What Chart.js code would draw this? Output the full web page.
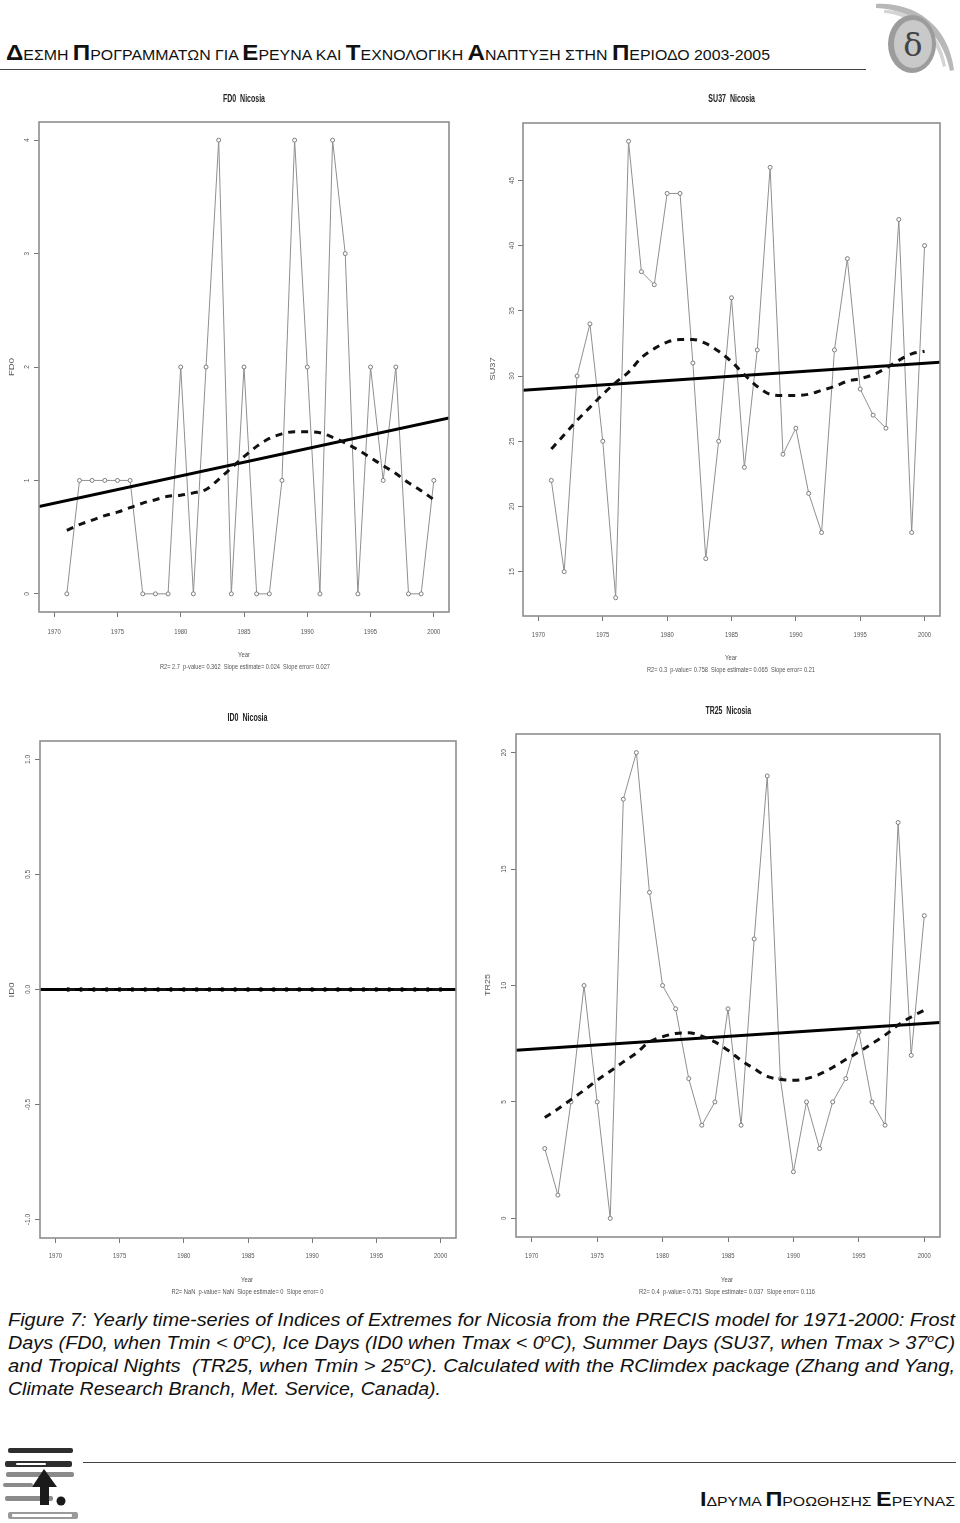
<!DOCTYPE html>
<html><head><meta charset="utf-8">
<script src="https://cdn.jsdelivr.net/npm/chart.js@4.4.1/dist/chart.umd.min.js"></script>
<style>
html,body{margin:0;padding:0;background:#fff;}
body{width:960px;height:1523px;position:relative;overflow:hidden;font-family:"Liberation Sans",Arial,sans-serif;}
canvas{position:absolute;}
.hdr{position:absolute;white-space:nowrap;color:#111;line-height:22px;}
.b{font-size:22px;font-weight:bold;}
.s{font-size:14.5px;}
.cap{position:absolute;left:8px;white-space:nowrap;font-style:italic;font-size:18px;line-height:23px;transform-origin:0 50%;font-family:"Liberation Sans Narrow","Liberation Sans",Arial,sans-serif;color:#111;}
.cap sup{font-size:11px;line-height:0;vertical-align:7px;}
.rule{position:absolute;height:0;border-top:1.6px solid #444;}
</style></head><body>

<div class="hdr" id="hdr" style="left:6px;top:42px;"><span class="b">Δ</span><span class="s">ΕΣΜΗ </span><span class="b">Π</span><span class="s">ΡΟΓΡΑΜΜΑΤΩΝ ΓΙΑ </span><span class="b">Ε</span><span class="s">ΡΕΥΝΑ ΚΑΙ </span><span class="b">Τ</span><span class="s">ΕΧΝΟΛΟΓΙΚΗ </span><span class="b">Α</span><span class="s">ΝΑΠΤΥΞΗ ΣΤΗΝ </span><span class="b">Π</span><span class="s">ΕΡΙΟΔΟ 2003-2005</span></div>
<div class="rule" style="left:0;top:69px;width:866px;"></div>

<svg style="position:absolute;left:866px;top:0" width="94" height="78" viewBox="0 0 94 78">
  <path d="M10 4 C45 2 82 22 88 70 L84 71 C76 30 46 10 10 8 Z" fill="#b8b8b8"/>
  <path d="M18 10 C48 10 74 30 80 66 L77 67 C70 34 46 15 18 13 Z" fill="#d4d4d4"/>
  <ellipse cx="46" cy="44" rx="24" ry="29" fill="#9c9c9c"/>
  <ellipse cx="47" cy="44" rx="19" ry="24" fill="#c9c9c9"/>
  <text x="47" y="56" text-anchor="middle" font-family="DejaVu Serif, serif" font-size="32" fill="#444">δ</text>
</svg>

<div class="cap" id="c1" style="top:1309px;">Figure 7: Yearly time-series of Indices of Extremes for Nicosia from the PRECIS model for 1971-2000: Frost</div>
<div class="cap" id="c2" style="top:1332px;">Days (FD0, when Tmin &lt; 0<sup>o</sup>C), Ice Days (ID0 when Tmax &lt; 0<sup>o</sup>C), Summer Days (SU37, when Tmax &gt; 37<sup>o</sup>C)</div>
<div class="cap" id="c3" style="top:1355px;">and Tropical Nights&nbsp; (TR25, when Tmin &gt; 25<sup>o</sup>C). Calculated with the RClimdex package (Zhang and Yang,</div>
<div class="cap" id="c4" style="top:1378px;">Climate Research Branch, Met. Service, Canada).</div>

<svg style="position:absolute;left:0;top:1440px" width="82" height="83" viewBox="0 0 82 83">
  <rect x="8" y="8" width="65" height="5" rx="2" fill="#2e2e2e"/>
  <rect x="5" y="21" width="67" height="6" rx="2" fill="#2e2e2e"/>
  <rect x="16" y="23" width="30" height="2" rx="1" fill="#fff"/>
  <rect x="6" y="32" width="68" height="5" rx="2" fill="#8a8a8a"/>
  <rect x="3" y="43" width="30" height="4" rx="2" fill="#8a8a8a"/>
  <rect x="5" y="56" width="48" height="5" rx="2" fill="#8a8a8a"/>
  <rect x="8" y="72" width="70" height="7" rx="2" fill="#9a9a9a"/>
  <rect x="12" y="74" width="60" height="3" rx="1" fill="#fff"/>
  <polygon points="44,29 57,47 49,47 49,65 40,65 40,47 32,47" fill="#1a1a1a"/>
  <circle cx="61" cy="61" r="4.5" fill="#1a1a1a"/>
</svg>
<div class="rule" style="left:83px;top:1462px;width:873px;"></div>
<div class="hdr" id="ftr" style="left:700px;top:1488px;"><span class="b" style="font-size:20px">Ι</span><span class="s" style="font-size:13.5px">ΔΡΥΜΑ </span><span class="b" style="font-size:20px">Π</span><span class="s" style="font-size:13.5px">ΡΟΩΘΗΣΗΣ </span><span class="b" style="font-size:20px">Ε</span><span class="s" style="font-size:13.5px">ΡΕΥΝΑΣ</span></div>

<script>
// ---------- data ----------
const years = [1971,1972,1973,1974,1975,1976,1977,1978,1979,1980,1981,1982,1983,1984,1985,1986,1987,1988,1989,1990,1991,1992,1993,1994,1995,1996,1997,1998,1999,2000];
const xRange = [1968.8, 2001.2];
const xTicks = [1970,1975,1980,1985,1990,1995,2000];
const xTickLabels = ['1970','1975','1980','1985','1990','1995','2000'];

const fd0Values = [0,1,1,1,1,1,0,0,0,2,0,2,4,0,2,0,0,1,4,2,0,4,3,0,2,1,2,0,0,1];
const fd0Trend  = [0.77,1.55];
const fd0Smooth = [0.56,0.61,0.65,0.69,0.72,0.76,0.80,0.83,0.86,0.87,0.89,0.92,1.01,1.11,1.21,1.30,1.37,1.41,1.43,1.43,1.42,1.38,1.33,1.27,1.20,1.13,1.06,0.98,0.91,0.83];
const fd0YRange = [-0.16,4.16];
const fd0YTicks = [0,1,2,3,4];
const fd0YTickLabels = ['0','1','2','3','4'];

const su37Values = [22,15,30,34,25,13,48,38,37,44,44,31,16,25,36,23,32,46,24,26,21,18,32,39,29,27,26,42,18,40];
const su37Trend  = [28.9,31.05];
const su37Smooth = [24.4,25.5,26.6,27.6,28.6,29.5,30.3,31.4,32.1,32.6,32.8,32.8,32.5,31.9,31.1,30.1,29.2,28.6,28.5,28.5,28.6,28.9,29.2,29.6,29.8,30.1,30.6,31.2,31.7,31.9];
const su37YRange = [11.6,49.4];
const su37YTicks = [15,20,25,30,35,40,45];
const su37YTickLabels = ['15','20','25','30','35','40','45'];

const id0Values = [0,0,0,0,0,0,0,0,0,0,0,0,0,0,0,0,0,0,0,0,0,0,0,0,0,0,0,0,0,0];
const id0Trend  = [0,0];
const id0Smooth = [0,0,0,0,0,0,0,0,0,0,0,0,0,0,0,0,0,0,0,0,0,0,0,0,0,0,0,0,0,0];
const id0YRange = [-1.08,1.08];
const id0YTicks = [-1,-0.5,0,0.5,1];
const id0YTickLabels = ['-1.0','-0.5','0.0','0.5','1.0'];

const tr25Values = [3,1,5,10,5,0,18,20,14,10,9,6,4,5,9,4,12,19,6,2,5,3,5,6,8,5,4,17,7,13];
const tr25Trend  = [7.22,8.41];
const tr25Smooth = [4.33,4.7,5.1,5.5,5.93,6.32,6.72,7.1,7.58,7.8,7.94,7.97,7.82,7.58,7.22,6.79,6.43,6.1,5.97,5.93,6.0,6.19,6.48,6.82,7.15,7.5,7.87,8.3,8.65,8.94];
const tr25YRange = [-0.8,20.8];
const tr25YTicks = [0,5,10,15,20];
const tr25YTickLabels = ['0','5','10','15','20'];

const titles = {fd0:'FD0  Nicosia', su37:'SU37  Nicosia', id0:'ID0  Nicosia', tr25:'TR25  Nicosia'};
const yNames = {fd0:'FD0', su37:'SU37', id0:'ID0', tr25:'TR25'};
const xName = 'Year';
const stats = {
  fd0:'R2= 2.7  p-value= 0.362  Slope estimate= 0.024  Slope error= 0.027',
  su37:'R2= 0.3  p-value= 0.758  Slope estimate= 0.065  Slope error= 0.21',
  id0:'R2= NaN  p-value= NaN  Slope estimate= 0  Slope error= 0',
  tr25:'R2= 0.4  p-value= 0.751  Slope estimate= 0.037  Slope error= 0.116'
};

// ---------- layout (page px) ----------
const layout = {
  fd0:  {canvas:[0,85,475,600],   box:[39,122,449,612],   title:[244,99,42],    ylab:[12,367,18],    ytickX:27,    xtickY:632,  year:[244,655],    stats:[245,667,170]},
  su37: {canvas:[475,85,485,600], box:[523,123,940,616],  title:[731.7,99,46.7],ylab:[493,369,23],   ytickX:511.7, xtickY:635,  year:[731,658],    stats:[731,670,168]},
  id0:  {canvas:[0,695,475,610],  box:[40,741,456,1238],  title:[247.5,718,40], ylab:[12,990,15],    ytickX:28,    xtickY:1256, year:[247,1280],   stats:[247.5,1292,152]},
  tr25: {canvas:[475,695,485,610],box:[516,734,940,1237], title:[728.3,711,45.7],ylab:[487.3,985,22],ytickX:503.3, xtickY:1256, year:[727,1279.3], stats:[727,1291.7,176]}
};

function drawText(ctx, text, x, y, o) {
  ctx.save();
  ctx.translate(x, y);
  if (o.rot) ctx.rotate(o.rot);
  ctx.font = (o.bold ? 'bold ' : '') + o.size + 'px "Liberation Sans", Arial, sans-serif';
  const w = ctx.measureText(text).width;
  const sx = o.width ? o.width / w : (o.sx || 1);
  ctx.scale(sx, 1);
  ctx.textAlign = 'center';
  ctx.textBaseline = 'middle';
  ctx.fillStyle = o.color || '#444';
  ctx.fillText(text, 0, 0);
  ctx.restore();
}

function makeTextPlugin(key, L, yTicks, yLabels) {
  const [cx, cy] = L.canvas;
  return {
    id: 'rtext_' + key,
    afterDraw(chart) {
      const {ctx, chartArea: a, scales: {x, y}} = chart;
      ctx.save();
      ctx.strokeStyle = '#8e8e8e';
      ctx.lineWidth = 1.6;
      ctx.strokeRect(a.left, a.top, a.right - a.left, a.bottom - a.top);
      ctx.restore();
      xTicks.forEach((v, i) => drawText(ctx, xTickLabels[i], x.getPixelForValue(v), L.xtickY - cy, {size: 8, sx: 0.74, color: '#555'}));
      yTicks.forEach((v, i) => drawText(ctx, yLabels[i], L.ytickX - cx, y.getPixelForValue(v), {size: 8, sx: 0.82, rot: -Math.PI / 2, color: '#555'}));
      drawText(ctx, titles[key], L.title[0] - cx, L.title[1] - cy, {size: 11, bold: true, width: L.title[2], color: '#222'});
      drawText(ctx, yNames[key], L.ylab[0] - cx, L.ylab[1] - cy, {size: 8, width: L.ylab[2], rot: -Math.PI / 2, color: '#555'});
      drawText(ctx, xName, L.year[0] - cx, L.year[1] - cy, {size: 8, sx: 0.74, color: '#555'});
      drawText(ctx, stats[key], L.stats[0] - cx, L.stats[1] - cy, {size: 8, width: L.stats[2], color: '#555'});
    }
  };
}

function buildChart(key, values, trend, smooth, yRange, yTicks, yLabels, rawStyle) {
  const L = layout[key];
  const [cx, cy, cw, ch] = L.canvas;
  const [bl, bt, br, bb] = L.box;
  const cv = document.createElement('canvas');
  cv.width = cw; cv.height = ch;
  cv.style.left = cx + 'px'; cv.style.top = cy + 'px';
  document.body.appendChild(cv);
  new Chart(cv, {
    type: 'line',
    data: {datasets: [
      {data: years.map((x, i) => ({x, y: values[i]})), borderColor: rawStyle.line, borderWidth: 1,
       pointRadius: 2, pointBorderWidth: 1, pointBackgroundColor: '#fff', pointBorderColor: rawStyle.point, order: 3, tension: 0},
      {data: xRange.map((x, i) => ({x, y: trend[i]})), borderColor: '#000', borderWidth: 3, pointRadius: 0, order: 2},
      {data: years.map((x, i) => ({x, y: smooth[i]})), borderColor: '#111', borderWidth: 3, borderDash: [7, 6],
       pointRadius: 0, cubicInterpolationMode: 'monotone', order: 1}
    ]},
    options: {
      responsive: false, animation: false, devicePixelRatio: 1,
      layout: {padding: {left: 0, top: bt - cy, right: cx + cw - br, bottom: cy + ch - bb - 30}},
      plugins: {legend: {display: false}, tooltip: {enabled: false}},
      scales: {
        x: {type: 'linear', min: xRange[0], max: xRange[1],
            afterBuildTicks: sc => { sc.ticks = xTicks.map(v => ({value: v})); },
            afterFit: sc => { sc.height = 30; },
            grid: {drawOnChartArea: false, drawTicks: true, tickLength: 5, color: '#777', lineWidth: 1},
            border: {display: false},
            ticks: {color: 'rgba(0,0,0,0)', font: {size: 8}, callback: v => xTickLabels[xTicks.indexOf(v)]}},
        y: {type: 'linear', min: yRange[0], max: yRange[1],
            afterBuildTicks: sc => { sc.ticks = yTicks.map(v => ({value: v})); },
            afterFit: sc => { sc.width = bl - cx; },
            grid: {drawOnChartArea: false, drawTicks: true, tickLength: 5, color: '#777', lineWidth: 1},
            border: {display: false},
            ticks: {color: 'rgba(0,0,0,0)', font: {size: 8}, callback: v => yLabels[yTicks.indexOf(v)]}}
      }
    },
    plugins: [makeTextPlugin(key, L, yTicks, yLabels)]
  });
}

const grayRaw = {line: '#8f8f8f', point: '#7c7c7c'};
buildChart('fd0', fd0Values, fd0Trend, fd0Smooth, fd0YRange, fd0YTicks, fd0YTickLabels, grayRaw);
buildChart('su37', su37Values, su37Trend, su37Smooth, su37YRange, su37YTicks, su37YTickLabels, grayRaw);
buildChart('id0', id0Values, id0Trend, id0Smooth, id0YRange, id0YTicks, id0YTickLabels, {line: '#555', point: '#333'});
buildChart('tr25', tr25Values, tr25Trend, tr25Smooth, tr25YRange, tr25YTicks, tr25YTickLabels, grayRaw);

// fit text blocks to their widths
function fitW(id, target, origin) {
  const el = document.getElementById(id);
  const w = el.getBoundingClientRect().width;
  el.style.transformOrigin = origin || '0 50%';
  el.style.transform = 'scaleX(' + (target / w) + ')';
}
fitW('c1', 947); fitW('c2', 947); fitW('c3', 947); fitW('c4', 433);
fitW('hdr', 764);
fitW('ftr', 255);
</script>
</body></html>
